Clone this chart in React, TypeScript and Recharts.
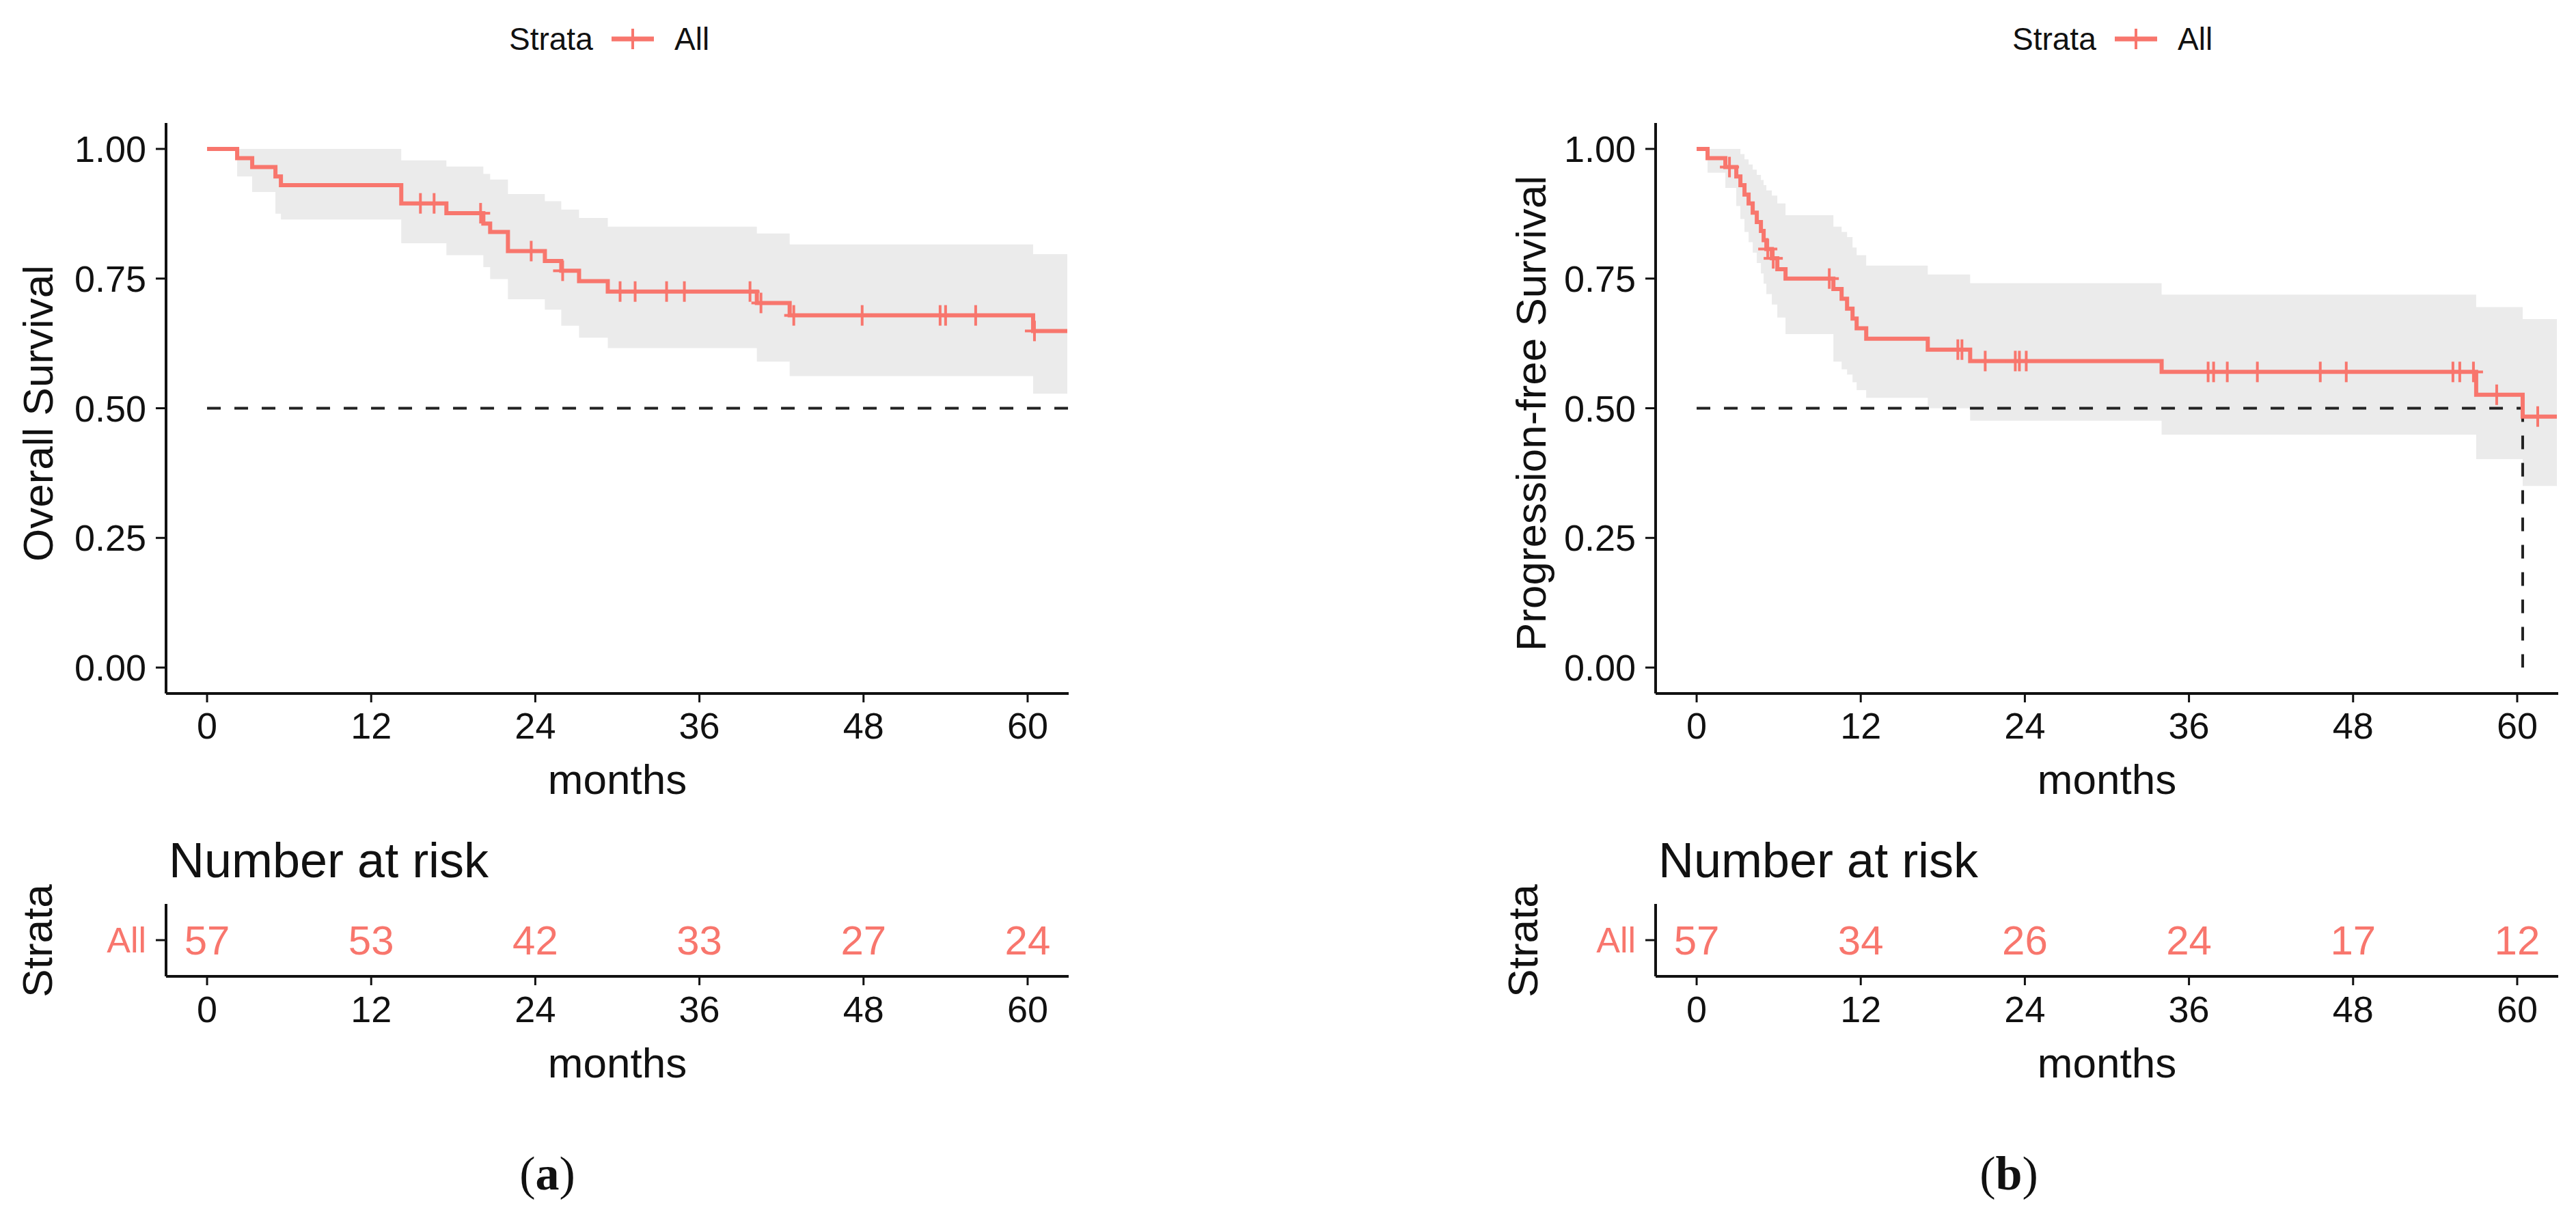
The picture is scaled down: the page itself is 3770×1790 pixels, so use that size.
import React from "react";
import { Area, ComposedChart, Line, ReferenceLine, Scatter, XAxis, YAxis } from "recharts";

const RED = "#F8766D";
const BAND = "#EBEBEB";
const INK = "#111111";
const FONT = "'Liberation Sans', Arial, Helvetica, sans-serif";

const monthTicks = [0, 12, 24, 36, 48, 60];
const survTicks = [0, 0.25, 0.5, 0.75, 1];

// (a) overall survival, Kaplan-Meier steps
const osTime = [0, 2.2, 3.3, 5.0, 5.4, 14.2, 17.5, 20.2, 20.7, 22.0, 24.7, 25.9, 27.2, 29.3, 40.2, 42.6, 60.4, 62.9];
const osSurv = [1, 0.982, 0.965, 0.947, 0.93, 0.895, 0.876, 0.856, 0.84, 0.803, 0.784, 0.765, 0.745, 0.725, 0.703, 0.679, 0.649, 0.649];
const osUpper = [1, 1, 1, 1, 1, 0.978, 0.966, 0.952, 0.941, 0.913, 0.899, 0.883, 0.867, 0.85, 0.837, 0.816, 0.797, 0.797];
const osLower = [1, 0.947, 0.917, 0.875, 0.864, 0.818, 0.795, 0.772, 0.749, 0.71, 0.69, 0.659, 0.636, 0.616, 0.59, 0.562, 0.528, 0.528];
const osCensor = [15.6, 16.6, 20.0, 23.7, 26.0, 30.2, 31.3, 33.6, 34.9, 39.7, 40.5, 42.9, 47.9, 53.6, 54.0, 56.2, 60.5];
const osRisk = [57, 53, 42, 33, 27, 24];

// (b) progression-free survival
const pfsTime = [0, 0.8, 2.1, 2.9, 3.2, 3.5, 3.8, 4.1, 4.4, 4.7, 4.9, 5.1, 5.5, 5.9, 6.5, 10.0, 10.6, 11.0, 11.4, 11.7, 12.4, 16.9, 20.0, 34.0, 57.0, 60.4, 62.9];
const pfsSurv = [1, 0.982, 0.965, 0.947, 0.93, 0.912, 0.895, 0.877, 0.859, 0.842, 0.824, 0.807, 0.789, 0.768, 0.75, 0.73, 0.711, 0.692, 0.673, 0.654, 0.634, 0.613, 0.591, 0.57, 0.526, 0.484, 0.484];
const pfsUpper = [1, 1, 1, 1, 0.99, 0.98, 0.97, 0.96, 0.95, 0.94, 0.93, 0.92, 0.91, 0.895, 0.872, 0.85, 0.84, 0.83, 0.81, 0.795, 0.775, 0.758, 0.741, 0.719, 0.695, 0.672, 0.672];
const pfsLower = [1, 0.954, 0.925, 0.89, 0.865, 0.84, 0.82, 0.8, 0.78, 0.76, 0.74, 0.72, 0.7, 0.675, 0.643, 0.59, 0.575, 0.565, 0.55, 0.535, 0.52, 0.5, 0.476, 0.449, 0.402, 0.35, 0.35];
const pfsCensor = [2.4, 5.2, 5.6, 9.7, 19.1, 19.4, 21.1, 23.3, 23.6, 24.1, 37.4, 37.8, 38.8, 41.0, 45.6, 47.5, 55.3, 55.8, 56.8, 58.5, 61.5];
const pfsRisk = [57, 34, 26, 24, 17, 12];
const pfsMedian = 60.4;

type Cfg = {
  time: number[];
  surv: number[];
  upper: number[];
  lower: number[];
  censor: number[];
  risk: number[];
  median: number | null;
  yTitle: string;
  tag: string;
  left: number;
  yTitleX: number;
  legendX: number;
  strataX: number;
  tagX: number;
};

const panels: Cfg[] = [
  { time: osTime, surv: osSurv, upper: osUpper, lower: osLower, censor: osCensor, risk: osRisk, median: null,
    yTitle: "Overall Survival", tag: "a", left: 0, yTitleX: 55, legendX: 745, strataX: 54, tagX: 801 },
  { time: pfsTime, surv: pfsSurv, upper: pfsUpper, lower: pfsLower, censor: pfsCensor, risk: pfsRisk, median: pfsMedian,
    yTitle: "Progression-free Survival", tag: "b", left: 2180, yTitleX: 60, legendX: 765, strataX: 48, tagX: 760 },
];

const W = 1590;
const PLOT_L = 243;
const PLOT_R = 1564;
const X_DOMAIN: [number, number] = [-3, 63];

function survAt(c: Cfg, t: number) {
  let s = 1;
  c.time.forEach((tt, i) => {
    if (tt <= t) s = c.surv[i];
  });
  return s;
}

const Plus = (p: any) => (
  <g stroke={RED} strokeWidth={4}>
    <line x1={p.cx - 14} y1={p.cy} x2={p.cx + 14} y2={p.cy} />
    <line x1={p.cx} y1={p.cy - 15} x2={p.cx} y2={p.cy + 15} />
  </g>
);

const RiskNum = (p: any) => (
  <text x={p.cx} y={p.cy + 21} textAnchor="middle" fontSize={60} fill={RED} fontFamily={FONT}>
    {p.payload.n}
  </text>
);

const tickStyle = { fontSize: 54, fill: INK, fontFamily: FONT };
const axisStyle = { stroke: INK, strokeWidth: 4 };
const tickLineStyle = { stroke: INK, strokeWidth: 3 };

function Panel({ c }: { c: Cfg }) {
  const rows = c.time.map((t, i) => ({ t, s: c.surv[i], band: [c.lower[i], c.upper[i]] }));
  const censors = c.censor.map((t) => ({ t, s: survAt(c, t) }));
  const risk = monthTicks.map((t, i) => ({ t, y: 0.5, n: c.risk[i] }));
  const medEnd = c.median ?? X_DOMAIN[1];
  const cx = (PLOT_L + PLOT_R) / 2;

  return (
    <>
      <div style={{ position: "absolute", left: c.left, top: 0 }}>
        <ComposedChart width={W} height={1200} data={rows} margin={{ top: 180, right: W - PLOT_R, bottom: 0, left: 0 }}>
          <XAxis
            type="number"
            dataKey="t"
            domain={X_DOMAIN}
            ticks={monthTicks}
            allowDataOverflow
            height={185}
            tickSize={13}
            tickMargin={15}
            tick={tickStyle}
            axisLine={axisStyle}
            tickLine={tickLineStyle}
          />
          <YAxis
            type="number"
            domain={[-0.05, 1.05]}
            ticks={survTicks}
            allowDataOverflow
            width={PLOT_L}
            tickSize={15}
            tickMargin={14}
            tick={tickStyle}
            axisLine={axisStyle}
            tickLine={tickLineStyle}
            tickFormatter={(v: number) => v.toFixed(2)}
          />
          <Area dataKey="band" type="stepAfter" fill={BAND} fillOpacity={1} stroke="none" isAnimationActive={false} />
          <ReferenceLine
            segment={[{ x: 0, y: 0.5 }, { x: medEnd, y: 0.5 }]}
            stroke="#222"
            strokeWidth={4}
            strokeDasharray="20 20"
            ifOverflow="visible"
          />
          {c.median !== null && (
            <ReferenceLine
              segment={[{ x: c.median, y: 0.5 }, { x: c.median, y: 0 }]}
              stroke="#222"
              strokeWidth={4}
              strokeDasharray="20 20"
              ifOverflow="visible"
            />
          )}
          <Line dataKey="s" type="stepAfter" stroke={RED} strokeWidth={6} dot={false} activeDot={false} isAnimationActive={false} />
          <Scatter data={censors} dataKey="s" shape={Plus} isAnimationActive={false} />
        </ComposedChart>
      </div>

      <div style={{ position: "absolute", left: c.left, top: 1280 }}>
        <ComposedChart width={W} height={400} data={risk} margin={{ top: 43, right: W - PLOT_R, bottom: 0, left: 0 }}>
          <XAxis
            type="number"
            dataKey="t"
            domain={X_DOMAIN}
            ticks={monthTicks}
            allowDataOverflow
            height={251}
            tickSize={13}
            tickMargin={16}
            tick={tickStyle}
            axisLine={axisStyle}
            tickLine={tickLineStyle}
          />
          <YAxis
            type="number"
            domain={[0, 1]}
            ticks={[0.5]}
            width={PLOT_L}
            tickSize={15}
            tickMargin={14}
            tick={{ fontSize: 52, fill: RED, fontFamily: FONT }}
            axisLine={axisStyle}
            tickLine={tickLineStyle}
            tickFormatter={() => "All"}
          />
          <Scatter data={risk} dataKey="y" shape={RiskNum} isAnimationActive={false} />
        </ComposedChart>
      </div>

      <svg
        width={W}
        height={1790}
        style={{ position: "absolute", left: c.left, top: 0, pointerEvents: "none" }}
        fontFamily={FONT}
        fill={INK}
      >
        {/* legend */}
        <text x={c.legendX} y={57 + 16} fontSize={46}>Strata</text>
        <line x1={c.legendX + 150} y1={57} x2={c.legendX + 212} y2={57} stroke={RED} strokeWidth={7} />
        <line x1={c.legendX + 181} y1={42} x2={c.legendX + 181} y2={72} stroke={RED} strokeWidth={4} />
        <text x={c.legendX + 242} y={57 + 16} fontSize={46}>All</text>

        {/* axis titles */}
        <text
          x={c.yTitleX}
          y={605 + 22}
          fontSize={62}
          textAnchor="middle"
          transform={`rotate(-90 ${c.yTitleX} 605)`}
        >
          {c.yTitle}
        </text>
        <text x={cx} y={1140 + 22} fontSize={62} textAnchor="middle">months</text>

        {/* risk table */}
        <text x={PLOT_L + 4} y={1258 + 26} fontSize={72}>Number at risk</text>
        <text
          x={c.strataX}
          y={1377 + 22}
          fontSize={62}
          textAnchor="middle"
          transform={`rotate(-90 ${c.strataX} 1377)`}
        >
          Strata
        </text>
        <text x={cx} y={1555 + 22} fontSize={62} textAnchor="middle">months</text>

        {/* panel tag */}
        <text
          x={c.tagX}
          y={1741}
          fontSize={70}
          textAnchor="middle"
          fontFamily="'Liberation Serif', 'Times New Roman', serif"
        >
          (<tspan fontWeight="bold">{c.tag}</tspan>)
        </text>
      </svg>
    </>
  );
}

export default function App() {
  return (
    <div style={{ position: "absolute", left: 0, top: 0, width: 3770, height: 1790, background: "#fff", overflow: "hidden" }}>
      {panels.map((c) => (
        <Panel key={c.tag} c={c} />
      ))}
    </div>
  );
}
